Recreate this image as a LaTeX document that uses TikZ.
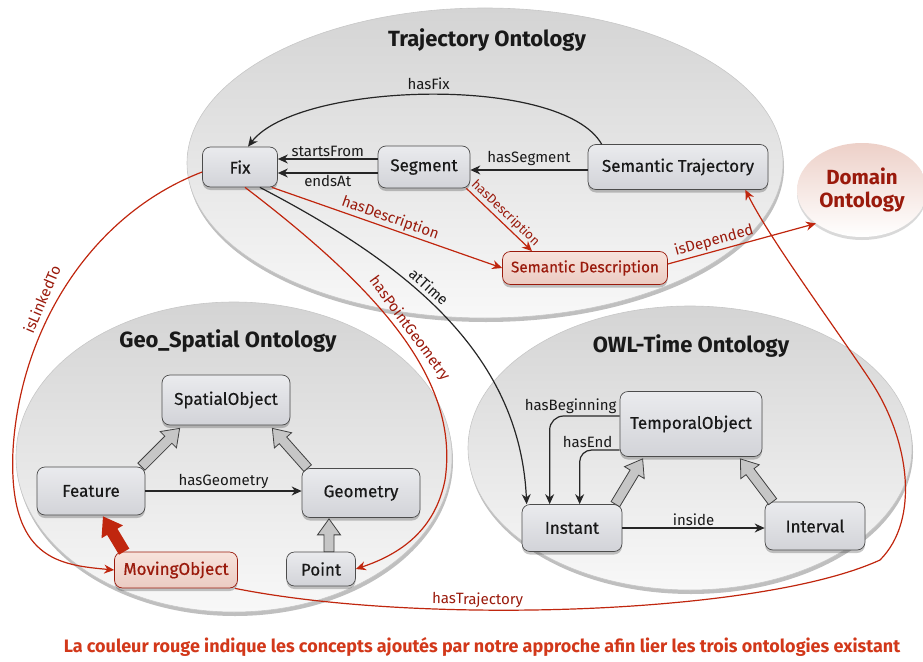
\documentclass[tikz,border=0pt]{standalone}
\usepackage{fontspec}
\setmainfont{Fira Sans}
\newfontfamily\medfont{Fira Sans}[FakeBold=0.5]
\usetikzlibrary{arrows.meta,calc,shadows,shapes.geometric}
\definecolor{redline}{HTML}{C0260E}
\definecolor{redtxt}{HTML}{9A1A0C}
\definecolor{footred}{HTML}{D2381A}
\definecolor{boxtop}{HTML}{EAEBEE}
\definecolor{boxbot}{HTML}{D2D3D8}
\definecolor{rboxtop}{HTML}{F7E3DC}
\definecolor{rboxbot}{HTML}{EBCBC2}
\definecolor{elltop}{HTML}{D4D4D4}
\definecolor{ellbot}{HTML}{F8F8F8}
% #1 style, #2 tail, #3 head, #4 shaft half width, #5 head half width, #6 head length (all in pt)
\newcommand\genarrow[6]{%
  \path[#1] let \p1=(#2), \p2=(#3), \n1={atan2(\y2-\y1,\x2-\x1)}, \n2={veclen(\x2-\x1,\y2-\y1)} in
    [shift={(\p1)}, rotate=\n1] (0pt,-#4pt) -- ({(\n2-#6)*1pt},-#4pt) -- ({(\n2-#6)*1pt},-#5pt) -- ({\n2*1pt},0pt)
    -- ({(\n2-#6)*1pt},#5pt) -- ({(\n2-#6)*1pt},#4pt) -- (0pt,#4pt) -- cycle;}
\begin{document}
\begin{tikzpicture}[x=1pt,y=-1pt,
  box/.style={rounded corners=8pt, draw=black!70, line width=0.7pt, top color=boxtop, bottom color=boxbot,
    font=\medfont\fontsize{17}{19}\selectfont, text=black!90, inner sep=2pt,
    drop shadow={shadow xshift=0pt, shadow yshift=-3pt, opacity=0.22, fill=black}},
  rbox/.style={box, draw=redtxt, top color=rboxtop, bottom color=rboxbot, text=redtxt},
  ell/.style={top color=elltop, bottom color=ellbot, draw=black!22, line width=0.6pt,
    drop shadow={shadow xshift=1pt, shadow yshift=-4pt, opacity=0.25, fill=black}},
  title/.style={font=\bfseries\fontsize{22}{25}\selectfont, text=black!90},
  lbl/.style={font=\fontsize{15}{17}\selectfont, text=black!90, inner sep=2pt},
  rlbl/.style={lbl, text=redtxt},
  conn/.style={-{Stealth[length=10pt,width=9pt]}, line width=1.2pt, draw=black!85},
  rconn/.style={conn, draw=redline},
  gen/.style={draw=black!75, line width=0.8pt, fill=gray!45},
  rgen/.style={fill=redline}]
\useasboundingbox (0,0) rectangle (923,661);
% ontology ellipses
\path[ell] (485,163) ellipse [x radius=298, y radius=155];
\path[ell] (234,457) ellipse [x radius=218, y radius=155];
\path[ell] (690,448) ellipse [x radius=222, y radius=142];
\node[ellipse, minimum width=130pt, minimum height=94pt, top color=rboxbot!90, bottom color=white,
  drop shadow={shadow xshift=0pt, shadow yshift=-3pt, opacity=0.15, fill=black},
  font=\bfseries\fontsize{20.5}{23}\selectfont, text=redtxt, align=center, inner sep=0pt] (Dom) at (862,190) {Domain\\Ontology};
% titles
\node[title] (tTraj) at (487,40) {Trajectory Ontology};
\node[title] (tGeo) at (228,341) {Geo\_Spatial Ontology};
\node[title] (tOwl) at (691,346) {OWL-Time Ontology};
% boxes
\node[box, minimum width=75pt, minimum height=40pt] (Fix) at (240,167) {Fix};
\node[box, minimum width=92pt, minimum height=42pt] (Seg) at (424,167) {Segment};
\node[box, minimum width=180pt, minimum height=45pt] (ST) at (678,167) {Semantic Trajectory};
\node[rbox, font=\medfont\fontsize{15.3}{17}\selectfont, minimum width=165pt, minimum height=33pt] (SD) at (585,268) {Semantic Description};
\node[box, minimum width=128pt, minimum height=50pt] (SpObj) at (226,400) {SpatialObject};
\node[box, minimum width=108pt, minimum height=48pt] (Feature) at (91,491) {Feature};
\node[box, minimum width=118pt, minimum height=49pt] (Geometry) at (361,493) {Geometry};
\node[box, minimum width=69pt, minimum height=34pt] (Point) at (321,569) {Point};
\node[rbox, minimum width=123pt, minimum height=36pt] (MO) at (176,570) {MovingObject};
\node[box, minimum width=142pt, minimum height=65pt] (TO) at (691,424) {TemporalObject};
\node[box, minimum width=100pt, minimum height=47pt] (Instant) at (572,528) {Instant};
\node[box, minimum width=100pt, minimum height=48pt] (Interval) at (815,526) {Interval};
% generalisation arrows
\genarrow{gen}{$(Feature.north east)+(-4,0)$}{$(SpObj.south west)+(18,3)$}{5}{11.5}{16}
\genarrow{gen}{$(Geometry.north west)+(6,0)$}{$(SpObj.south east)+(-18,3)$}{5}{11.5}{16}
\genarrow{gen}{$(Point.north)+(8,0)$}{$(Geometry.south)+(-32,1)$}{5}{11.5}{16}
\genarrow{gen}{$(Instant.north east)+(-7,0)$}{$(TO.south west)+(23,2)$}{5}{11.5}{16}
\genarrow{gen}{$(Interval.north west)+(8,0)$}{$(TO.south east)+(-22,2)$}{5}{11.5}{16}
\genarrow{rgen}{$(MO.north west)+(10,0)$}{$(Feature.south)+(12,1)$}{6}{12.5}{18}
% trajectory ontology connectors
\draw[conn] ($(ST.north west)+(14,0)$) .. controls +(-40,-70) and +(50,-65) .. ($(Fix.north)+(8,0)$)
  node[lbl, pos=0.5, above=2pt] {hasFix};
\draw[conn] ([yshift=8pt]Seg.west) -- ([yshift=8pt]Fix.east) node[lbl, midway, above] {startsFrom};
\draw[conn] ([yshift=-6pt]Seg.west) -- ([yshift=-6pt]Fix.east) node[lbl, midway, below] {endsAt};
\draw[conn] ([yshift=-3pt]ST.west) -- ([yshift=-3pt]Seg.east) node[lbl, midway, above=2pt] {hasSegment};
\draw[rconn] ($(Fix.south east)+(-6,0)$) -- (SD.west) node[rlbl, midway, sloped, above] {hasDescription};
\draw[rconn] ($(Seg.south east)+(-4,0)$) -- ($(SD.north)+(-53,0)$)
  node[rlbl, font=\fontsize{13}{15}\selectfont, midway, sloped, above] {hasDescription};
\draw[rconn] ([yshift=4pt]SD.east) -- (Dom.216) node[rlbl, pos=0.33, sloped, above] {isDepended};
\draw[conn] ($(Fix.south east)+(-18,0)$) .. controls +(140,73) and +(-7,-155) .. ($(Instant.north west)+(5,0)$)
  node[lbl, pos=0.43, sloped, above=2pt] {atTime};
\draw[rconn] ($(Fix.south)+(5,0)$) .. controls +(135,103) and +(15,-100) .. (445,480)
  node[rlbl, pos=0.5, sloped, above] {hasPointGeometry}
  .. controls +(-10,50) and +(45,-15) .. (Point.east);
\draw[rconn] ([yshift=-5pt]Fix.west) .. controls (90,215) and (20,330) .. (13,450)
  node[rlbl, pos=0.55, xshift=-17pt, yshift=-2pt, rotate=67] {isLinkedTo}
  .. controls (8,560) and (60,565) .. (MO.west);
\draw[rconn] ($(MO.south east)+(-3,0)$) .. controls +(185,37) and +(-120,55) .. (880,560)
  node[rlbl, pos=0.36, sloped, above] {hasTrajectory}
  .. controls +(40,-40) and +(40,60) .. (870,380)
  .. controls +(-40,-60) and +(25,50) .. ($(ST.south east)+(-23,0)$);
% geo connectors
\draw[conn] (Feature.east) -- (Feature.east -| Geometry.west) node[lbl, midway, above] {hasGeometry};
% owl connectors
\draw[conn] (Instant.east) -- (Instant.east -| Interval.west) node[lbl, midway, above] {inside};
\draw[conn, rounded corners=14pt] ([yshift=8pt]TO.west) -| ($(Instant.north west)+(28,0)$)
  node[lbl, pos=0.35, above] {hasBeginning};
\draw[conn, rounded corners=12pt] ([yshift=-26pt]TO.west) -| ($(Instant.north west)+(58,0)$)
  node[lbl, pos=0.4, above] {hasEnd};
% footer
\node[font=\bfseries\fontsize{18}{21}\selectfont, text=footred] (foot) at (482,647)
  {La couleur rouge indique les concepts ajoutés par notre approche afin lier les trois ontologies existant};
\end{tikzpicture}
\end{document}
